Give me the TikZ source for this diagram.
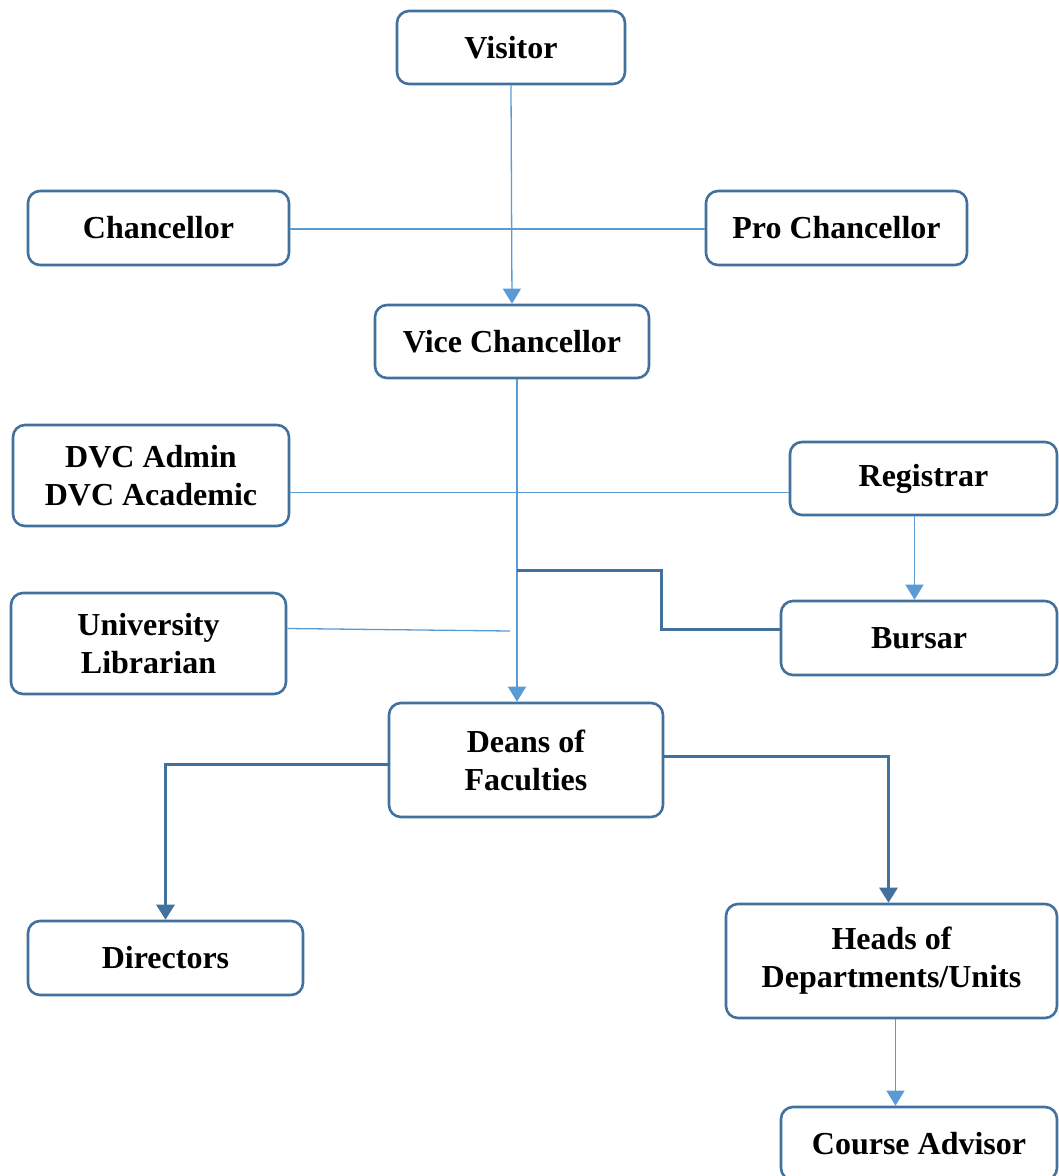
\documentclass[tikz,border=0pt]{standalone}
\usepackage{fontspec}
\setmainfont{Liberation Serif}
\usetikzlibrary{arrows.meta}
\definecolor{boxblue}{HTML}{41719C}
\definecolor{lineblue}{HTML}{5B9BD5}
\tikzset{
  post/.style={draw=boxblue,line width=2.6pt,rounded corners=12pt,fill=white,
    align=center,inner sep=0pt,font=\fontsize{32}{38}\selectfont\bfseries},
  thin link/.style={draw=lineblue,line width=1.3pt},
  thick link/.style={draw=boxblue,line width=3pt},
  tip/.style={-{Triangle[length=15pt,width=18pt]}}
}
\begin{document}
\begin{tikzpicture}[x=1pt,y=-1pt]
\useasboundingbox (0,0) rectangle (1059,1176);
% offices
\node[post,minimum width=228pt,minimum height=73pt] (visitor) at (511,47.5) {Visitor};
\node[post,minimum width=261pt,minimum height=74pt] (chan) at (158.5,228) {Chancellor};
\node[post,minimum width=261pt,minimum height=74pt] (pro) at (836.5,228) {Pro Chancellor};
\node[post,minimum width=274pt,minimum height=73pt] (vc) at (512,341.5) {Vice Chancellor};
\node[post,minimum width=276pt,minimum height=101pt] (dvc) at (151,475.5) {DVC Admin\\DVC Academic};
\node[post,minimum width=267pt,minimum height=73pt] (reg) at (923.5,478.5) {Registrar};
\node[post,minimum width=275pt,minimum height=101pt] (lib) at (148.5,643.5) {University\\Librarian};
\node[post,minimum width=276pt,minimum height=74pt] (bur) at (919,638) {Bursar};
\node[post,minimum width=274pt,minimum height=114pt] (dean) at (526,760) {Deans of\\Faculties};
\node[post,minimum width=275pt,minimum height=74pt] (dir) at (165.5,958) {Directors};
\node[post,minimum width=331pt,minimum height=114pt] (heads) at (891.5,961) {Heads of\\Departments/Units};
\node[post,minimum width=276pt,minimum height=73pt] (cours) at (919,1143.5) {Course Advisor};
% links
\coordinate (branch) at (517,570);
\coordinate (libend) at (510,631);
\draw[thin link,tip] (visitor.south) -- (vc.north);
\draw[thin link] ([yshift=-1pt]chan.east) -- ([yshift=-1pt]pro.west);
\draw[thin link,tip] ([xshift=5pt]vc.south) -- ([xshift=5pt]vc.south |- dean.north);
\draw[thin link] ([yshift=-17pt]dvc.east) -- ([yshift=-17pt]dvc.east -| reg.west);
\draw[thin link,tip] ([xshift=-9pt]reg.south) -- ([xshift=-9pt]reg.south |- bur.north);
\draw[thin link] ([yshift=15pt]lib.east) -- (libend);
\draw[thick link] (branch) -- (661,570) |- ([yshift=9pt]bur.west);
\draw[thick link,tip] ([yshift=-4pt]dean.west) -| (dir.north);
\draw[thick link,tip] ([yshift=4pt]dean.east) -| ([xshift=-3pt]heads.north);
\draw[thin link,tip] ([xshift=4pt]heads.south) -- ([xshift=4pt]heads.south |- cours.north);
\end{tikzpicture}
\end{document}
